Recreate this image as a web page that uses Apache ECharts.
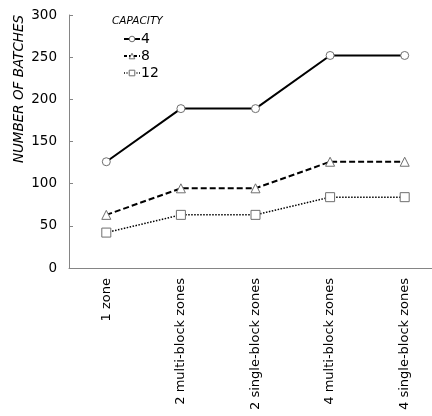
<!DOCTYPE html>
<html>
<head>
<meta charset="utf-8">
<script src="https://cdn.jsdelivr.net/npm/echarts@6/dist/echarts.min.js"></script>
<style>
  html, body { margin: 0; padding: 0; background: #fff; overflow: hidden; }
  #chart { width: 442px; height: 416px; }
</style>
</head>
<body>
<div id="chart"></div>
<script>
// Layout configurations along the x axis
const categories = ['1 zone', '2 multi-block zones', '2 single-block zones', '4 multi-block zones', '4 single-block zones'];

// Number of batches per capacity
const capacity4 = [126, 189, 189, 252, 252];
const capacity8 = [63, 94.5, 94.5, 126, 126];
const capacity12 = [42, 63, 63, 84, 84];

const yTicks = { min: 0, max: 300, interval: 50 };

const FONT = 'DejaVu Sans';
const axisGray = '#858585';
const markerGray = '#6f6f6f';

const chart = echarts.init(document.getElementById('chart'), null, { renderer: 'canvas' });

const styles = {
  '4': { symbol: 'circle', size: 8, type: 'solid', width: 2 },
  '8': { symbol: 'triangle', size: 9, type: [6, 3], width: 2 },
  '12': { symbol: 'rect', size: 9, type: [1.5, 1.5], width: 1.5 }
};

function lineSeries(name, data) {
  const s = styles[name];
  return {
    name: name,
    type: 'line',
    data: data,
    symbol: s.symbol,
    symbolSize: s.size,
    showAllSymbol: true,
    lineStyle: { color: '#000', width: s.width, type: s.type },
    itemStyle: { color: '#fff', borderColor: markerGray, borderWidth: 1 },
    emphasis: { disabled: true },
    z: 3
  };
}

function legendItem(name) {
  const s = styles[name];
  return {
    name: name,
    itemStyle: { color: '#fff', borderColor: markerGray, borderWidth: 1 },
    lineStyle: { color: '#000', width: s.width, type: s.type === 'solid' ? 'solid' : (name === '8' ? [3, 2] : [1, 1.5]) }
  };
}

chart.setOption({
  animation: false,
  backgroundColor: '#fff',
  title: {
    text: 'CAPACITY',
    left: 107,
    top: 11,
    textStyle: { fontFamily: FONT, fontSize: 10.5, fontStyle: 'italic', fontWeight: 'normal', color: '#000' }
  },
  legend: {
    orient: 'vertical',
    left: 123,
    top: 32,
    padding: 0,
    itemWidth: 16,
    itemHeight: 7,
    itemGap: 3,
    textStyle: { fontFamily: FONT, fontSize: 14, color: '#000', lineHeight: 14, padding: [0, 0, 0, -4] },
    data: ['4', '8', '12'].map(legendItem)
  },
  graphic: [{
    type: 'text',
    x: 19,
    y: 89,
    rotation: Math.PI / 2,
    style: {
      text: 'NUMBER OF BATCHES',
      fontFamily: FONT,
      fontSize: 13.5,
      fontStyle: 'italic',
      fill: '#000',
      align: 'center',
      verticalAlign: 'middle'
    }
  }],
  grid: { left: 69, top: 15, right: 0, bottom: 148, containLabel: false },
  xAxis: {
    type: 'category',
    data: categories,
    boundaryGap: true,
    axisLine: { lineStyle: { color: axisGray, width: 1 } },
    axisTick: { inside: true, length: 5, lineStyle: { color: axisGray } },
    axisLabel: { rotate: 90, margin: 10, fontFamily: FONT, fontSize: 13, color: '#000', interval: 0 },
    splitLine: { show: false }
  },
  yAxis: {
    type: 'value',
    min: yTicks.min,
    max: yTicks.max,
    interval: yTicks.interval,
    axisLine: { show: true, lineStyle: { color: axisGray, width: 1 } },
    axisTick: { show: true, inside: true, length: 4, lineStyle: { color: axisGray } },
    axisLabel: { margin: 12, fontFamily: FONT, fontSize: 13.5, color: '#000' },
    splitLine: { show: false }
  },
  series: [
    lineSeries('4', capacity4),
    lineSeries('8', capacity8),
    lineSeries('12', capacity12)
  ]
});
</script>
</body>
</html>
